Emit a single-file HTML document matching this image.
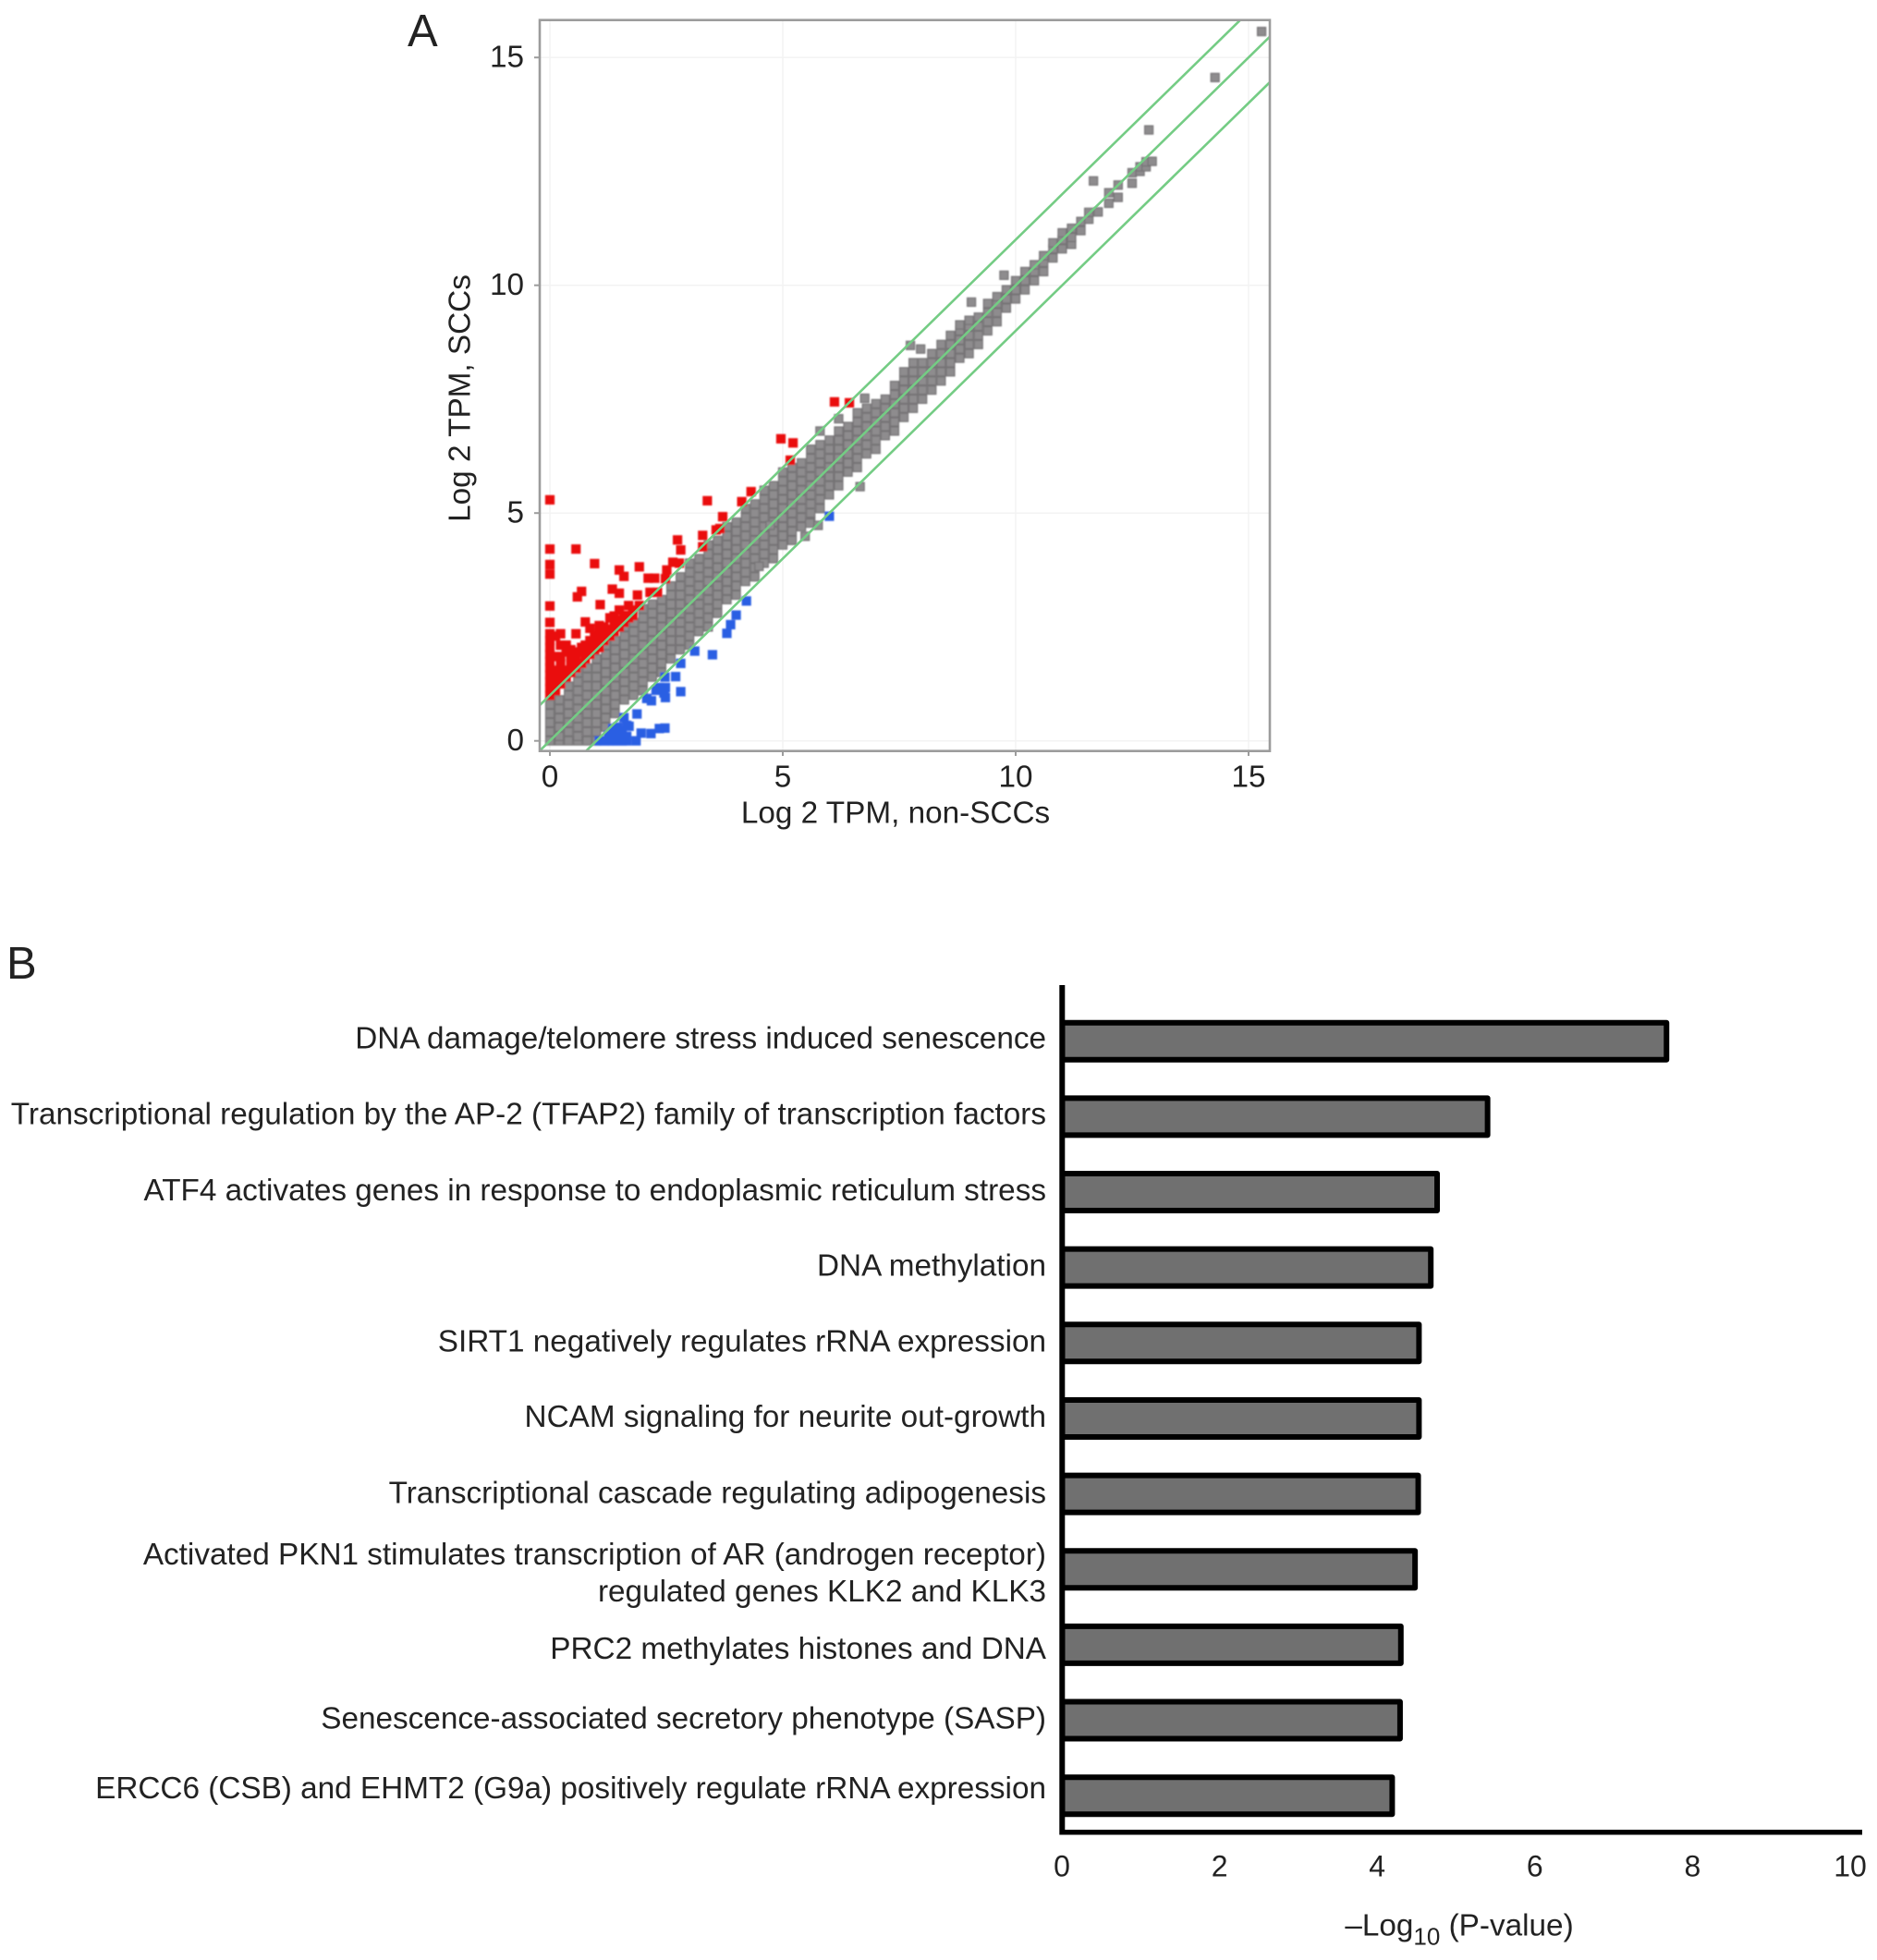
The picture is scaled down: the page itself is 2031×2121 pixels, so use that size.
<!DOCTYPE html>
<html lang="en">
<head>
<meta charset="utf-8">
<title>Scatter plot and pathway enrichment bar chart</title>
<style>
html,body{margin:0;padding:0;background:#fff}
svg{display:block}
text{font-family:"Liberation Sans",sans-serif;fill:#222}
</style>
</head>
<body>
<svg id="fig" xmlns="http://www.w3.org/2000/svg" width="2031" height="2121" viewBox="0 0 2031 2121">
  <defs>
    <clipPath id="plot-clip"><rect x="584" y="21.7" width="790" height="791"/></clipPath>
    <filter id="soft" x="-2%" y="-2%" width="104%" height="104%"><feGaussianBlur stdDeviation="0.7"/></filter>
  </defs>
  <rect width="2031" height="2121" fill="#fff"/>
  <text x="441" y="50" font-size="49">A</text>
  <text x="7" y="1059" font-size="49">B</text>
  <g id="scatter"></g>
  <g id="bars"></g>
</svg>
<script>
// ---------- Panel A data ----------
const scatterXTicks = [0, 5, 10, 15];
const scatterYTicks = [0, 5, 10, 15];
const foldLines = [1, 0, -1];

const grayColX = [0,.2,.4,.6,.8,1,1.2,1.4,1.6,1.8,2,2.2,2.4,2.6,2.8,3,3.2,3.4,3.6,3.8,4,4.2,4.4,4.6,4.8,5,5.2,5.4,5.6,5.8,6,6.2,6.4,6.6,6.8,7,7.2,7.4,7.6,7.8,8,8.2,8.4,8.6,8.8,9,9.2,9.4,9.6,9.8,10,10.2,10.4,10.6,10.8,11,11.2,11.4,11.57,11.77,12,12.2,12.5,12.67,12.8,12.93,
 4.49,4.73,5.48,5.58,5.76,6.66,6.76,7.74,7.96,9.05,9.75,11.67,12.86,14.28,15.28];
const grayColY = [
[0,.2,.4,.6,.8],
[0,.1,.3,.5,.7,.9],
[0,.2,.4,.6,.8,1,1.2],
[0,.1,.3,.5,.7,.9,1.1,1.3,1.5],
[0,.2,.4,.6,.8,1,1.2,1.4,1.6],
[0,.2,.4,.6,.8,1,1.2,1.4,1.6,1.8],
[.3,.5,.7,.9,1.1,1.3,1.5,1.7,1.9,2.1],
[.6,.8,1,1.2,1.4,1.6,1.8,2,2.2],
[.9,1.1,1.3,1.5,1.7,1.9,2.1,2.3,2.5],
[1,1.2,1.4,1.6,1.8,2,2.2,2.4,2.6],
[1.1,1.3,1.5,1.7,1.9,2.1,2.3,2.5,2.7,2.9],
[1.4,1.6,1.8,2,2.2,2.4,2.6,2.8,3],
[1.5,1.7,1.9,2.1,2.3,2.5,2.7,2.9,3.1],
[1.8,2,2.2,2.4,2.6,2.8,3,3.2,3.4],
[2,2.2,2.4,2.6,2.8,3,3.2,3.4,3.6],
[2.1,2.3,2.5,2.7,2.9,3.1,3.3,3.5,3.7,3.9],
[2.4,2.6,2.8,3,3.2,3.4,3.6,3.8,4],
[2.5,2.7,2.9,3.1,3.3,3.5,3.7,3.9,4.1,4.3],
[2.8,3,3.2,3.4,3.6,3.8,4,4.2,4.4],
[3.1,3.3,3.5,3.7,3.9,4.1,4.3,4.5,4.7],
[3.2,3.4,3.6,3.8,4,4.2,4.4,4.6,4.8],
[3.5,3.7,3.9,4.1,4.3,4.5,4.7,4.9,5.1],
[3.6,3.8,4,4.2,4.4,4.6,4.8,5,5.2],
[3.9,4.1,4.3,4.5,4.7,4.9,5.1,5.3,5.5],
[4,4.2,4.4,4.6,4.8,5,5.2,5.4,5.6],
[4.3,4.5,4.7,4.9,5.1,5.3,5.5,5.7,5.9],
[4.4,4.6,4.8,5,5.2,5.4,5.6,5.8,6],
[4.7,4.9,5.1,5.3,5.5,5.7,5.9,6.1],
[4.8,5,5.2,5.4,5.6,5.8,6,6.2,6.4],
[5.1,5.3,5.5,5.7,5.9,6.1,6.3,6.5,6.8],
[5.4,5.6,5.8,6,6.2,6.4,6.6],
[5.6,5.8,6,6.2,6.4,6.6,6.8,7.07],
[5.9,6.1,6.3,6.5,6.7,6.9],
[6,6.2,6.4,6.6,6.8,7,7.2],
[6.3,6.5,6.7,6.9,7.1,7.3],
[6.4,6.6,6.8,7,7.2,7.4],
[6.7,6.9,7.1,7.3,7.5],
[6.8,7,7.2,7.4,7.6,7.8],
[7.1,7.3,7.5,7.7,7.9,8.1],
[7.3,7.5,7.7,7.9,8.1,8.3],
[7.5,7.7,7.9,8.1,8.3],
[7.7,7.9,8.1,8.3,8.5],
[7.9,8.1,8.3,8.5,8.7],
[8.1,8.3,8.5,8.7,8.9],
[8.4,8.6,8.8,9,9.13],
[8.5,8.7,8.9,9.1,9.23],
[8.7,8.9,9.1,9.3],
[9,9.2,9.4,9.6],
[9.2,9.4,9.6,9.75],
[9.5,9.7,9.9],
[9.7,9.9,10.1],
[9.9,10.1,10.3],
[10.1,10.3,10.45],
[10.3,10.5,10.65],
[10.6,10.8,10.93],
[10.8,11,11.15],
[10.9,11.05,11.25],
[11.2,11.4],
[11.45,11.6],
[11.61],
[11.8,12.03],
[11.93,12.2],
[12.24,12.47],
[12.5,12.6],
[12.6,12.71],
[12.72],
[3.83],[4.73],[4.49],[4.78],[4.73],[5.58],[7.52],[8.68],[8.6],[9.63],[10.22],[12.29],[13.41],[14.56],[15.57]
];

const blueColX = [1.06,1.16,1.26,1.35,1.45,1.55,1.59,1.65,1.7,1.85,1.87,1.96,2.08,2.17,2.18,2.28,2.35,2.45,2.47,2.48,2.7,2.81,3.11,3.49,3.8,3.88,4,4.22,6];
const blueColY = [
[0],[0],[0,.12],[0,.1,.27],[0,.12,.3],[0,.1,.22],[.51],[0,.1,.34],[.32],[0],[.59],[.17],[.93],[.16],[.88],[1.11],[.27,1.17],[1.05],[.28,1.4],[.95,1.17],[1.41],[1.08,1.7],[1.97],[1.89],[2.36],[2.55],[2.76],[3.07],[4.93]
];

const redColX = [0,.12,.23,.35,.45,.56,.59,.68,.76,.86,.96,1.06,1.08,1.16,1.29,1.34,1.38,1.49,1.59,1.69,1.78,1.88,1.92,2.11,2.15,2.25,2.31,2.48,2.51,2.64,2.74,2.78,2.81,3.28,3.38,3.57,3.65,3.71,4.12,4.32,4.96,5.16,5.22,6.11,6.43];
const redColY = [
[1,1.15,1.3,1.45,1.6,1.75,1.9,2.05,2.2,2.35,2.6,2.96,3.66,3.87,4.21,5.29],
[1.1,1.25,1.4,1.55,1.85,2.3],
[1.25,1.4,1.55,1.7,1.85,2.1,2.35],
[1.4,1.55,1.95,2.1],
[1.5,1.65,1.85,2],
[1.6,1.75,1.95,2.35,4.21],
[3.16],
[1.7,1.95,2.05,3.28],
[1.8,1.95,2.1,2.61],
[1.9,2.05,2.2,2.47],
[2,2.15,2.3,3.89],
[2.05,2.2,2.35,2.53],
[2.99],
[2.2,2.35,2.5],
[2.3,2.45,2.7],
[3.33],
[2.4,2.55,2.74],
[2.5,2.65,2.87,3.24,3.75],
[2.6,2.75,3.61],
[2.7,2.97],
[2.75,2.87],
[3.2],[2.97,3.82],[3.57],[3.26],[3.57],[3.26],[3.56],[3.75],[3.92],[4.41],[3.9],[4.19],[4.26,4.51],[5.27],[4.63],[4.66],[4.92],[5.25],[5.47],[6.63],[6.16],[6.54],[7.44],[7.42]
];

// ---------- Panel B data ----------
const pathwayCategories = [
 "DNA damage/telomere stress induced senescence",
 "Transcriptional regulation by the AP-2 (TFAP2) family of transcription factors",
 "ATF4 activates genes in response to endoplasmic reticulum stress",
 "DNA methylation",
 "SIRT1 negatively regulates rRNA expression",
 "NCAM signaling for neurite out-growth",
 "Transcriptional cascade regulating adipogenesis",
 "Activated PKN1 stimulates transcription of AR (androgen receptor)|regulated genes KLK2 and KLK3",
 "PRC2 methylates histones and DNA",
 "Senescence-associated secretory phenotype (SASP)",
 "ERCC6 (CSB) and EHMT2 (G9a) positively regulate rRNA expression"
];
const pathwayValues = [7.67,5.40,4.76,4.68,4.53,4.53,4.52,4.48,4.30,4.29,4.19];
const barXTicks = [0,2,4,6,8,10];

// ---------- Axis functions ----------
const sx = v => 595 + 50.4 * v;
const sy = v => 801.7 - 49.3 * v;
const bx = v => 1149 + 85.3 * v;
const by = i => 1126.7 + 81.65 * i;

const NS = 'http://www.w3.org/2000/svg';
function make(tag, parent, attrs, txt) {
  const el = document.createElementNS(NS, tag);
  for (const k in attrs) el.setAttribute(k, attrs[k]);
  if (txt !== undefined) el.textContent = txt;
  parent.appendChild(el);
  return el;
}

// ---------- Panel A ----------
const sc = document.getElementById('scatter');
scatterXTicks.forEach(t => {
  const g = make('line', sc, {x1:sx(t),x2:sx(t),y1:21.7,y2:812.7,stroke:'#f3f3f3','stroke-width':1.5});
  
  
});
scatterYTicks.forEach(t => {
  const g = make('line', sc, {x1:584,x2:1374,y1:sy(t),y2:sy(t),stroke:'#f3f3f3','stroke-width':1.5});
  
  
});

const marks = make('g', sc, {filter:'url(#soft)'});


function drawSeries(colX, colY, fill, stroke, name) {
  colX.forEach((x, i) => {
    colY[i].forEach(y => {
      const m = make('rect', marks, {x:sx(x)-4.5,y:sy(y)-4.5,width:9,height:9,fill:fill,stroke:stroke,'stroke-width':1.2});
      
      
    });
  });
}
drawSeries(grayColX, grayColY, '#8e8c8e', '#747274', 'gray-point');
drawSeries(blueColX, blueColY, '#2b5fe3', '#2b5fe3', 'blue-point');
drawSeries(redColX, redColY, '#ea0c10', '#ea0c10', 'red-point');

const lineG = make('g', sc, {'clip-path':'url(#plot-clip)'});


foldLines.forEach(d => {
  const l = make('line', lineG, {x1:sx(-1),y1:sy(-1+d),x2:sx(17),y2:sy(17+d),stroke:'#74cc84','stroke-width':2.6,style:'mix-blend-mode:multiply'});
  
  
});

const frame = make('rect', sc, {x:584,y:21.7,width:790,height:791,fill:'none',stroke:'#9c9c9c','stroke-width':2.6});



scatterXTicks.forEach(t => {
  const k = make('line', sc, {x1:sx(t),x2:sx(t),y1:812.7,y2:818,stroke:'#9c9c9c','stroke-width':2});
  
  
  const lb = make('text', sc, {x:sx(t),y:851.5,'font-size':33.3,'text-anchor':'middle'}, t);
  
  
});
scatterYTicks.forEach(t => {
  const k = make('line', sc, {x1:578,x2:584,y1:sy(t),y2:sy(t),stroke:'#9c9c9c','stroke-width':2});
  
  
  const lb = make('text', sc, {x:567,y:sy(t)+10.5,'font-size':33.3,'text-anchor':'end'}, t);
  
  
});
const sxt = make('text', sc, {x:969,y:890.5,'font-size':33.3,'text-anchor':'middle'}, 'Log 2 TPM, non-SCCs');


const syt = make('text', sc, {x:0,y:0,'font-size':33.3,'text-anchor':'middle',transform:'translate(508.5 431) rotate(-90)'}, 'Log 2 TPM, SCCs');



// ---------- Panel B ----------
const bc = document.getElementById('bars');
const labelNudge = [-3,-3,-2,-2,-2,-2,-1,3.5,4,-2,-8];
pathwayValues.forEach((v, i) => {
  const r = make('rect', bc, {x:bx(0)+0.5,y:by(i)-20,width:bx(v)-bx(0)-0.5,height:40,fill:'#707070',stroke:'#000','stroke-width':6,'stroke-linejoin':'round'});
  
  
  const parts = pathwayCategories[i].split('|');
  parts.forEach((p, j) => {
    const base = by(i) + labelNudge[i] + 11;
    const yy = parts.length > 1 ? base - 20 + j * 40 : base;
    const t = make('text', bc, {x:1132,y:yy,'font-size':33.3,'text-anchor':'end'}, p);
    
    
  });
});
const ya = make('line', bc, {x1:1149.3,x2:1149.3,y1:1066,y2:1985.5,stroke:'#000','stroke-width':6});


const xa = make('line', bc, {x1:1146.5,x2:2015,y1:1982.7,y2:1982.7,stroke:'#000','stroke-width':5.5});


barXTicks.forEach(t => {
  const lb = make('text', bc, {x:bx(t),y:2030.5,'font-size':32,'text-anchor':'middle'}, t);
  
  
});
const bt = make('text', bc, {x:1579,y:2094.5,'font-size':33.3,'text-anchor':'middle'});


make('tspan', bt, {}, '–Log');
make('tspan', bt, {dy:10,'font-size':26}, '10');
make('tspan', bt, {dy:-10}, ' (P-value)');
</script>
</body>
</html>
